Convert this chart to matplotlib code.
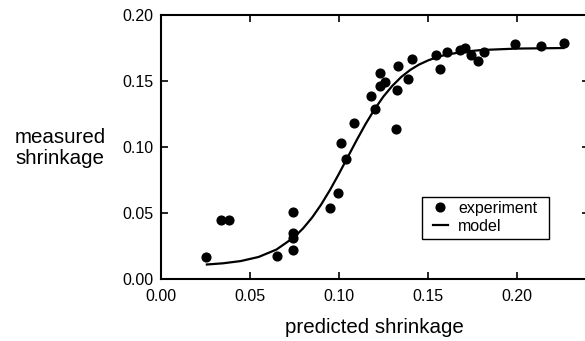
import matplotlib
matplotlib.use("Agg")
import matplotlib.pyplot as plt
from matplotlib.patches import Rectangle

plt.rcParams['font.family'] = ['Liberation Sans', 'DejaVu Sans']

# measured vs predicted shrinkage
exp_x = [0.0254, 0.0340, 0.0385, 0.0653, 0.0743, 0.0743, 0.0743, 0.0743,
         0.0952, 0.0995, 0.1010, 0.1042, 0.1083, 0.1183, 0.1203, 0.1229,
         0.1231, 0.1257, 0.1321, 0.1327, 0.1332, 0.1390, 0.1413, 0.1544,
         0.1566, 0.1608, 0.1677, 0.1707, 0.1743, 0.1780, 0.1813, 0.1988,
         0.2136, 0.2263]
exp_y = [0.0168, 0.0450, 0.0450, 0.0173, 0.0513, 0.0352, 0.0314, 0.0219,
         0.0538, 0.0654, 0.1030, 0.0910, 0.1184, 0.1385, 0.1292, 0.1465,
         0.1559, 0.1490, 0.1136, 0.1435, 0.1611, 0.1513, 0.1667, 0.1694,
         0.1589, 0.1720, 0.1737, 0.1750, 0.1694, 0.1649, 0.1722, 0.1780,
         0.1767, 0.1785]

# model curve
model_x = [0.026, 0.035, 0.045, 0.055, 0.065, 0.075, 0.080, 0.085, 0.090,
           0.095, 0.100, 0.105, 0.110, 0.115, 0.120, 0.125, 0.130, 0.135,
           0.140, 0.145, 0.150, 0.155, 0.160, 0.170, 0.180, 0.200, 0.226]
model_y = [0.0112, 0.0121, 0.0138, 0.0169, 0.0225, 0.0319, 0.0386, 0.0467,
           0.0564, 0.0675, 0.0797, 0.0925, 0.1053, 0.1175, 0.1286, 0.1383,
           0.1464, 0.1531, 0.1584, 0.1625, 0.1656, 0.1681, 0.1699, 0.1722,
           0.1735, 0.1746, 0.1750]

x_ticks = [0.00, 0.05, 0.10, 0.15, 0.20]
y_ticks = [0.00, 0.05, 0.10, 0.15, 0.20]

W, H = 585, 341
fig = plt.figure(figsize=(W / 100, H / 100), dpi=100)
ax = fig.add_axes([160.5 / W, 1 - 279.3 / H, (588.5 - 160.5) / W, (279.3 - 15) / H])

ax.plot(exp_x, exp_y, 'o', color='black', markersize=6.3, label='experiment', zorder=3)
ax.plot(model_x, model_y, '-', color='black', linewidth=1.6, label='model', zorder=2)

ax.set_xlim(0, 0.24)
ax.set_ylim(0, 0.20)
ax.set_xticks(x_ticks)
ax.set_yticks(y_ticks)
ax.set_xticklabels([f"{v:.2f}" for v in x_ticks])
ax.set_yticklabels([f"{v:.2f}" for v in y_ticks])

for s in ax.spines.values():
    s.set_linewidth(1.5)
ax.tick_params(direction='in', length=5, width=1.2, top=True, right=True,
               labelsize=11.5, pad=7)
ax.tick_params(axis='y', pad=5)

ax.set_xlabel('predicted shrinkage', fontsize=14.8, labelpad=10)
fig.text(60 / W, 1 - 148 / H, 'measured\nshrinkage', fontsize=14.8,
         ha='center', va='center', multialignment='center', linespacing=1.15)

leg = ax.legend(loc='upper left', bbox_to_anchor=(432.5 / W, 1 - 200.5 / H),
                bbox_transform=fig.transFigure, frameon=False, fontsize=11.5,
                handlelength=1.0, handletextpad=0.6, labelspacing=0.2,
                borderpad=0, borderaxespad=0)
fig.patches.append(Rectangle((422.3 / W, 1 - 239 / H), (549.3 - 422.3) / W,
                             (239 - 196.7) / H, transform=fig.transFigure,
                             fill=False, edgecolor='black', linewidth=1.0))

fig.savefig('out.png', dpi=100)
